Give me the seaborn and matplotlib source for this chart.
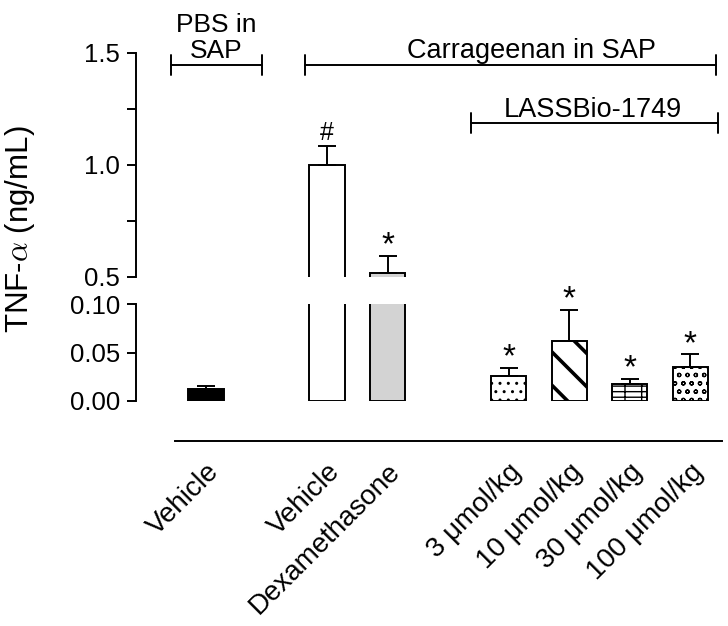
import numpy as np
import pandas as pd
import seaborn as sns
import matplotlib.pyplot as plt

sns.set_style("ticks")
plt.rcParams["font.family"] = ["Liberation Sans", "DejaVu Sans"]
plt.rcParams["mathtext.fontset"] = "cm"
plt.rcParams["hatch.linewidth"] = 1.0
for key in ("text.color", "axes.labelcolor", "xtick.color", "ytick.color",
            "axes.edgecolor"):
    plt.rcParams[key] = "black"

# data
groups = ["Vehicle", "Vehicle", "Dexamethasone", "3 μmol/kg", "10 μmol/kg",
          "30 μmol/kg", "100 μmol/kg"]
positions = [0, 2, 3, 5, 6, 7, 8]
means = [0.012, 1.00, 0.518, 0.026, 0.062, 0.018, 0.035]
sems = [0.003, 0.085, 0.076, 0.008, 0.032, 0.005, 0.013]
marks = ["", "#", "*", "*", "*", "*", "*"]

fills = ["black", "white", "#d3d3d3", "white", "white", "white", "white"]
hatches = ["", "", "", "..", "\\", "---|", "oo"]
hatch_lws = [1.0, 1.0, 1.0, 1.0, 2.6, 1.0, 0.9]

df = pd.DataFrame({"pos": positions, "mean": means})

fig = plt.figure(figsize=(7.28, 6.26), dpi=100)
left = 136 / 728
width = (724 - 136) / 728
ax_top = fig.add_axes([left, (626 - 277) / 626, width, (277 - 53) / 626])
ax_bot = fig.add_axes([left, (626 - 401) / 626, width, (401 - 304) / 626])

lw = 1.4
for ax in (ax_top, ax_bot):
    sns.barplot(data=df, x="pos", y="mean", native_scale=True, width=0.58,
                color="white", edgecolor="black", linewidth=lw,
                errorbar=None, ax=ax)
    for patch, fc, h, hl in zip(ax.patches, fills, hatches, hatch_lws):
        patch.set_facecolor(fc)
        patch.set_hatch(h)
        if hasattr(patch, "set_hatch_linewidth"):
            patch.set_hatch_linewidth(hl)
    ax.errorbar(positions, means, yerr=[np.zeros(len(means)), sems], fmt="none",
                ecolor="black", elinewidth=lw, capsize=6.5, capthick=lw)
    ax.set_xlim(-1.157, 8.56)
    ax.set_xlabel("")
    ax.set_ylabel("")
    for s in ("top", "right"):
        ax.spines[s].set_visible(False)
    ax.spines["left"].set_linewidth(lw)
    ax.spines["bottom"].set_linewidth(lw)
    ax.tick_params(axis="y", labelsize=18.5, length=6.5, width=lw, pad=5)
    ax.tick_params(axis="y", which="minor", length=6.5, width=lw)

# top panel
ax_top.set_ylim(0.5, 1.5)
ax_top.set_yticks([0.5, 1.0, 1.5])
ax_top.set_yticklabels(["0.5", "1.0", "1.5"])
ax_top.set_yticks([0.75, 1.25], minor=True)
ax_top.spines["bottom"].set_visible(False)
ax_top.set_xticks([])

# bottom panel
ax_bot.set_ylim(0, 0.1)
ax_bot.set_yticks([0.0, 0.05, 0.10])
ax_bot.set_yticklabels(["0.00", "0.05", "0.10"])
ax_bot.spines["bottom"].set_position(("outward", 28.5))
ax_bot.spines["bottom"].set_bounds(-0.51, 8.53)
ax_bot.set_xticks(positions)
ax_bot.set_xticklabels(groups, rotation=45, ha="right", rotation_mode="anchor",
                       fontsize=20)
ax_bot.tick_params(axis="x", length=0, pad=13)

# significance marks
for x, m, e, mk in zip(positions, means, sems, marks):
    if not mk:
        continue
    ax = ax_top if m + e > 0.3 else ax_bot
    size = 18 if mk == "#" else 24
    off = 1 if mk == "#" else -4
    ax.annotate(mk, xy=(x, m + e), xytext=(0, off), textcoords="offset points",
                ha="center", va="bottom", fontsize=size)


def bracket(ax, x0, x1, y, h=0.045):
    kw = dict(color="black", lw=lw, clip_on=False)
    ax.plot([x0, x1], [y, y], **kw)
    ax.plot([x0, x0], [y - h, y + h], **kw)
    ax.plot([x1, x1], [y - h, y + h], **kw)


bracket(ax_top, -0.58, 0.926, 1.446)
bracket(ax_top, 1.636, 8.43, 1.446)
bracket(ax_top, 4.38, 8.46, 1.1875)
ax_top.text(0.17, 1.478, "PBS in\nSAP", ha="center", va="baseline",
            fontsize=19, linespacing=1.1)
ax_top.text(5.37, 1.478, "Carrageenan in SAP", ha="center", va="baseline",
            fontsize=19.5)
ax_top.text(6.4, 1.214, "LASSBio-1749", ha="center", va="baseline",
            fontsize=19.5)

fig.text(20 / 728, (626 - 229) / 626, r"TNF-$\alpha$ (ng/mL)", rotation=90,
         ha="center", va="center", fontsize=22.5)

fig.savefig("out.png", dpi=100)
